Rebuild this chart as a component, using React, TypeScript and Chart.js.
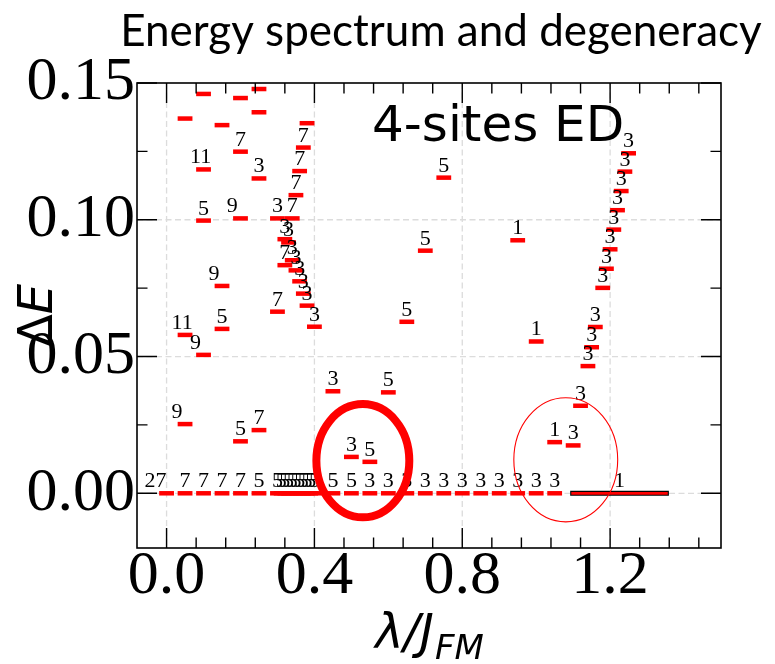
import React, { useEffect, useRef } from 'react';
import { Chart, registerables } from 'chart.js';

Chart.register(...registerables);

// ---- data: energy levels (lambda / J_FM, Delta E, degeneracy label) ----
const levelLambda = [
  // ground-state row
  0.0, 0.05, 0.1, 0.15, 0.2, 0.25, 0.3, 0.31, 0.32, 0.33, 0.34, 0.35, 0.36, 0.37, 0.38, 0.39, 0.4,
  0.45, 0.5, 0.55, 0.6, 0.65, 0.7, 0.75, 0.8, 0.85, 0.9, 0.95, 1.0, 1.05,
  // upper-left levels
  0.05, 0.1, 0.15, 0.2, 0.25, 0.25, 0.2, 0.1, 0.25, 0.1, 0.2, 0.3,
  // steep branch with degeneracy 7
  0.38, 0.37, 0.36, 0.35, 0.34, 0.33, 0.32, 0.3,
  // steep branch with degeneracy 3
  0.32, 0.34, 0.35, 0.36, 0.37, 0.38, 0.4,
  // scattered levels
  0.15, 0.05, 0.15, 0.1, 0.45, 0.6, 0.05, 0.2, 0.25, 0.5, 0.55, 0.65, 0.7, 0.75,
  0.95, 1.0, 1.05, 1.1, 1.12,
  // right branch
  1.14, 1.15, 1.16, 1.18, 1.19, 1.2, 1.21, 1.22, 1.23, 1.24, 1.25,
];
const levelEnergy = [
  0, 0, 0, 0, 0, 0, 0, 0, 0, 0, 0, 0, 0, 0, 0, 0, 0,
  0, 0, 0, 0, 0, 0, 0, 0, 0, 0, 0, 0, 0,
  0.137, 0.146, 0.1346, 0.1445, 0.1478, 0.1393, 0.1249, 0.1184, 0.1151, 0.0997, 0.1005, 0.1005,
  0.1353, 0.1264, 0.1178, 0.109, 0.1005, 0.0917, 0.0834, 0.0664,
  0.0929, 0.0852, 0.0815, 0.0775, 0.073, 0.0686, 0.0609,
  0.0758, 0.0579, 0.0601, 0.0506, 0.0373, 0.0369, 0.0253, 0.019, 0.0231, 0.0133, 0.0115, 0.0627, 0.0887, 0.1154,
  0.0925, 0.0555, 0.0187, 0.0175, 0.032,
  0.0465, 0.0534, 0.0608, 0.0751, 0.0821, 0.0892, 0.0964, 0.1035, 0.1105, 0.1176, 0.1243,
];
const levelDegeneracy = [
  '27', '7', '7', '7', '7', '5', '5', '5', '5', '5', '5', '5', '5', '5', '5', '5', '5',
  '5', '5', '3', '3', '3', '3', '3', '3', '3', '3', '3', '3', '3',
  '', '', '', '', '', '', '7', '11', '3', '5', '9', '3',
  '', '7', '7', '7', '7', '3', '7', '7',
  '3', '3', '3', '3', '3', '3', '3',
  '9', '11', '5', '9', '3', '5', '9', '5', '7', '3', '5', '5', '5', '5',
  '1', '1', '1', '3', '3',
  '3', '3', '3', '3', '3', '3', '3', '3', '3', '3', '3',
];

// long ground-state segment at large lambda
const longLevelStart = 1.092;
const longLevelEnd = 1.359;
const longLevelEnergy = 0;
const longLevelDegeneracy = '1';

// highlighted regions (ellipses): centre, radii
const ellipseCx = [0.531, 1.08];
const ellipseCy = [0.0119, 0.01225];
const ellipseRx = [0.1257, 0.1405];
const ellipseRy = [0.0207, 0.0227];

// axes
const xMin = -0.08;
const xMax = 1.5;
const yMin = -0.02;
const yMax = 0.15;
const xTickValues = [0.0, 0.4, 0.8, 1.2];
const xTickLabels = ['0.0', '0.4', '0.8', '1.2'];
const xMinorTicks = [0.08, 0.16, 0.24, 0.32, 0.48, 0.56, 0.64, 0.72, 0.88, 0.96, 1.04, 1.12, 1.28, 1.36, 1.44];
const yTickValues = [0.0, 0.05, 0.1, 0.15];
const yTickLabels = ['0.00', '0.05', '0.10', '0.15'];
const yMinorTicks = [0.025, 0.075, 0.125];

const labelShift: Record<string, number> = { '9': -0.022, '11': -0.008, '27': -0.03 };

const RED = '#ff0000';

const overlayPlugin = {
  id: 'overlay',
  beforeDatasetsDraw(chart: any) {
    const { ctx, chartArea: a, scales } = chart;
    const xs = scales.x, ys = scales.y;
    ctx.save();
    ctx.strokeStyle = '#dcdcdc';
    ctx.lineWidth = 1.3;
    ctx.setLineDash([6, 3.5]);
    for (const v of xTickValues) {
      const px = xs.getPixelForValue(v);
      ctx.beginPath(); ctx.moveTo(px, a.top); ctx.lineTo(px, a.bottom); ctx.stroke();
    }
    for (const v of yTickValues) {
      const py = ys.getPixelForValue(v);
      if (py <= a.top + 1) continue;
      ctx.beginPath(); ctx.moveTo(a.left, py); ctx.lineTo(a.right, py); ctx.stroke();
    }
    ctx.restore();
  },
  afterDatasetsDraw(chart: any) {
    const { ctx, scales } = chart;
    const xs = scales.x, ys = scales.y;
    ctx.save();
    // degeneracy labels
    ctx.fillStyle = '#000';
    ctx.font = '22px "Liberation Serif"';
    ctx.textAlign = 'center';
    ctx.textBaseline = 'alphabetic';
    levelDegeneracy.forEach((t, i) => {
      if (!t) return;
      const px = xs.getPixelForValue(levelLambda[i] + (labelShift[t] || 0));
      const py = ys.getPixelForValue(levelEnergy[i]) - 6;
      ctx.fillText(t, px, py);
    });
    ctx.fillText(
      longLevelDegeneracy,
      xs.getPixelForValue((longLevelStart + longLevelEnd) / 2),
      ys.getPixelForValue(longLevelEnergy) - 6
    );
    // ellipses
    ctx.strokeStyle = RED;
    ellipseCx.forEach((cx, i) => {
      const px = xs.getPixelForValue(cx);
      const py = ys.getPixelForValue(ellipseCy[i]);
      const rx = Math.abs(xs.getPixelForValue(cx + ellipseRx[i]) - px);
      const ry = Math.abs(ys.getPixelForValue(ellipseCy[i] + ellipseRy[i]) - py);
      ctx.lineWidth = i === 0 ? 8 : 1.1;
      ctx.beginPath();
      ctx.ellipse(px, py, rx, ry, 0, 0, Math.PI * 2);
      ctx.stroke();
    });
    ctx.restore();
  },
  afterDraw(chart: any) {
    const { ctx, chartArea: a, scales } = chart;
    const xs = scales.x, ys = scales.y;
    ctx.save();
    // frame
    ctx.strokeStyle = '#000';
    ctx.lineWidth = 1.6;
    ctx.strokeRect(a.left, a.top, a.right - a.left, a.bottom - a.top);
    // inward ticks
    ctx.lineWidth = 1.4;
    const major = 20, minor = 10.5;
    const vtick = (v: number, len: number) => {
      const px = xs.getPixelForValue(v);
      ctx.beginPath();
      ctx.moveTo(px, a.bottom); ctx.lineTo(px, a.bottom - len);
      ctx.moveTo(px, a.top); ctx.lineTo(px, a.top + len);
      ctx.stroke();
    };
    const htick = (v: number, len: number) => {
      const py = ys.getPixelForValue(v);
      ctx.beginPath();
      ctx.moveTo(a.left, py); ctx.lineTo(a.left + len, py);
      ctx.moveTo(a.right, py); ctx.lineTo(a.right - len, py);
      ctx.stroke();
    };
    xTickValues.forEach((v) => vtick(v, major));
    xMinorTicks.forEach((v) => vtick(v, minor));
    yTickValues.forEach((v) => htick(v, major));
    yMinorTicks.forEach((v) => htick(v, minor));

    // inset text
    ctx.fillStyle = '#000';
    ctx.textAlign = 'left';
    ctx.textBaseline = 'alphabetic';
    ctx.font = '50px "DejaVu Sans"';
    ctx.fillText('4-sites ED', a.left + 235, a.top + 58);

    // title
    ctx.textAlign = 'center';
    ctx.font = '44px Lato';
    ctx.fillText('Energy spectrum and degeneracy', 441, 46);

    // y-axis title: Delta E (E italic)
    ctx.save();
    ctx.translate(52, (a.top + a.bottom) / 2);
    ctx.rotate(-Math.PI / 2);
    ctx.textAlign = 'left';
    ctx.font = '48px "DejaVu Sans"';
    const wD = ctx.measureText('\u0394').width;
    ctx.font = 'oblique 48px "DejaVu Sans"';
    const wE = ctx.measureText('E').width;
    const start = -(wD + wE) / 2;
    ctx.font = '48px "DejaVu Sans"';
    ctx.fillText('\u0394', start, 0);
    ctx.font = 'oblique 48px "DejaVu Sans"';
    ctx.fillText('E', start + wD, 0);
    ctx.restore();

    // x-axis title: lambda / J_FM
    ctx.textAlign = 'left';
    ctx.font = 'oblique 48px "DejaVu Sans"';
    const wMain = ctx.measureText('\u03bb/J').width;
    ctx.font = 'oblique 34px "DejaVu Sans"';
    const wSub = ctx.measureText('FM').width;
    const cx = (a.left + a.right) / 2;
    const x0 = cx - (wMain + wSub) / 2;
    ctx.font = 'oblique 48px "DejaVu Sans"';
    ctx.fillText('\u03bb/J', x0, 648);
    ctx.font = 'oblique 34px "DejaVu Sans"';
    ctx.fillText('FM', x0 + wMain + 1, 659);
    ctx.restore();
  },
};

export default function App() {
  const ref = useRef<HTMLCanvasElement | null>(null);
  useEffect(() => {
    if (!ref.current) return;
    const chart = new Chart(ref.current, {
      type: 'scatter',
      data: {
        datasets: [
          {
            type: 'line',
            data: [
              { x: longLevelStart + 0.003, y: longLevelEnergy },
              { x: longLevelEnd - 0.003, y: longLevelEnergy },
            ],
            borderColor: RED,
            borderWidth: 2.8,
            pointRadius: 0,
            order: 0,
          } as any,
          {
            type: 'line',
            data: [
              { x: longLevelStart, y: longLevelEnergy },
              { x: longLevelEnd, y: longLevelEnergy },
            ],
            borderColor: '#000',
            borderWidth: 5,
            pointRadius: 0,
            order: 1,
          } as any,
          {
            type: 'scatter',
            data: levelLambda.map((x, i) => ({ x, y: levelEnergy[i] })),
            pointStyle: 'line',
            pointRadius: 7.4,
            pointHoverRadius: 7.4,
            pointBorderWidth: 4.5,
            pointBorderColor: RED,
            pointBackgroundColor: RED,
            order: 2,
          } as any,
        ],
      },
      options: {
        animation: false,
        responsive: false,
        devicePixelRatio: 1,
        events: [],
        layout: { padding: { top: 83, right: 54, left: 0, bottom: 0 } },
        plugins: { legend: { display: false }, tooltip: { enabled: false }, title: { display: false } },
        scales: {
          x: {
            type: 'linear',
            min: xMin,
            max: xMax,
            grid: { display: false, drawTicks: false },
            border: { display: false },
            afterBuildTicks: (s: any) => { s.ticks = xTickValues.map((v) => ({ value: v })); },
            afterFit: (s: any) => { s.height = 116; },
            ticks: {
              padding: -8,
              color: '#000',
              font: { family: '"Liberation Serif"', size: 62 },
              maxRotation: 0,
              callback: (v: any) => {
                const i = xTickValues.findIndex((t) => Math.abs(t - Number(v)) < 1e-9);
                return i >= 0 ? xTickLabels[i] : '';
              },
            },
          },
          y: {
            type: 'linear',
            min: yMin,
            max: yMax,
            grid: { display: false, drawTicks: false },
            border: { display: false },
            afterBuildTicks: (s: any) => { s.ticks = yTickValues.map((v) => ({ value: v })); },
            afterFit: (s: any) => { s.width = 137; },
            ticks: {
              padding: 2,
              color: '#000',
              font: { family: '"Liberation Serif"', size: 62 },
              callback: (v: any) => {
                const i = yTickValues.findIndex((t) => Math.abs(t - Number(v)) < 1e-9);
                return i >= 0 ? yTickLabels[i] : '';
              },
            },
          },
        },
      },
      plugins: [overlayPlugin],
    } as any);
    return () => chart.destroy();
  }, []);
  return (
    <div style={{ position: 'fixed', left: 0, top: 0, width: 775, height: 664, background: '#fff' }}>
      <canvas ref={ref} width={775} height={664} style={{ width: 775, height: 664, display: 'block' }} />
    </div>
  );
}
